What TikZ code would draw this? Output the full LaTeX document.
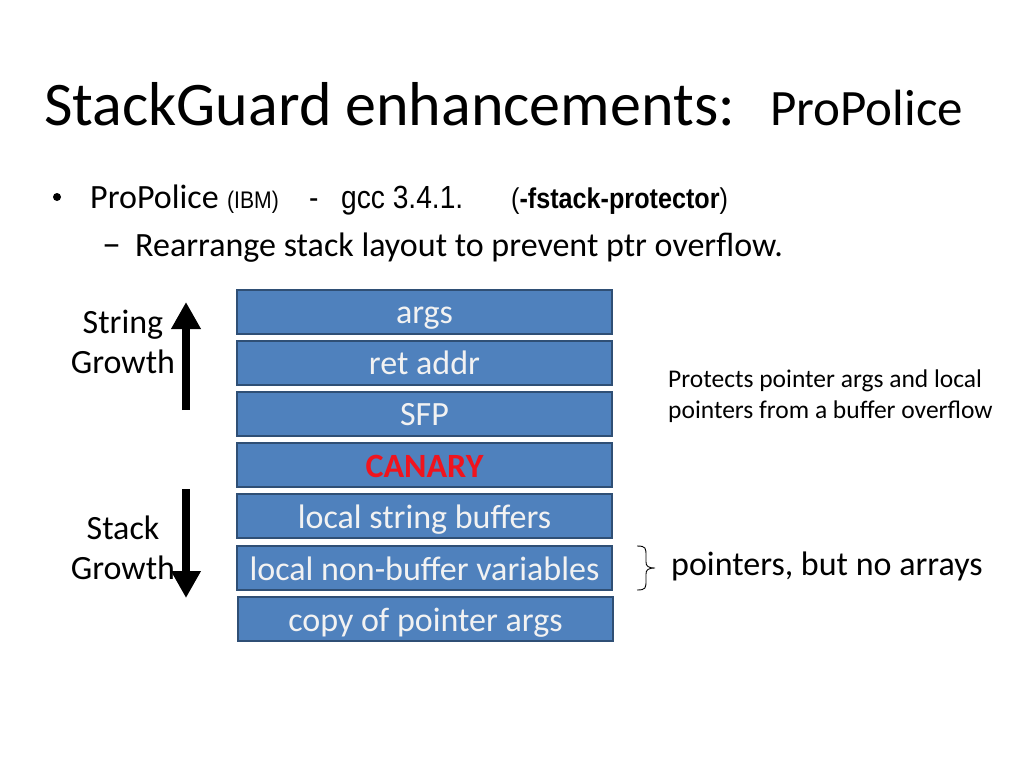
\documentclass[tikz,border=0pt]{standalone}
\usepackage{fontspec}
\setmainfont{Carlito}
\newfontfamily\arialn[FakeStretch=0.88]{Liberation Sans}
\usetikzlibrary{arrows.meta}
\definecolor{boxblue}{HTML}{4F81BD}
\definecolor{boxedge}{HTML}{2F4F75}
\definecolor{boxtext}{HTML}{F2F2F2}
\definecolor{canaryred}{HTML}{F0141E}
\begin{document}
\begin{tikzpicture}[x=1pt,y=-1pt,
  stackbox/.style={draw=boxedge,fill=boxblue,line width=1.2pt},
  boxlabel/.style={anchor=base,text=boxtext,inner sep=0pt,font=\fontsize{34}{40}\selectfont},
  plain/.style={inner sep=0pt,font=\fontsize{34}{40}\selectfont},
  bigarrow/.style={line width=8pt,-{Triangle[width=28pt,length=27pt]}}]
\useasboundingbox (0,0) rectangle (1024,768);
% title
\node[anchor=base west,inner sep=0pt,font=\fontsize{62}{70}\selectfont] (title) at (44,125) {StackGuard enhancements:};
\node[anchor=base west,inner sep=0pt,font=\fontsize{51}{60}\selectfont] (subtitle) at (770,125) {ProPolice};
% bullet line
\node[circle,fill=black,inner sep=0pt,minimum size=8pt] (dot) at (57,197) {};
\node[anchor=base west,plain] (pp) at (90,208) {ProPolice};
\node[anchor=base west,inner sep=0pt,font=\arialn\fontsize{24}{28}\selectfont] (ibm) at (227,208) {(IBM)};
\node[anchor=base west,inner sep=0pt,font=\arialn\fontsize{32}{36}\selectfont] (dash) at (309,208) {-};
\node[anchor=base west,inner sep=0pt,font=\arialn\fontsize{32}{36}\selectfont] (gcc) at (341,208) {gcc 3.4.1.};
\node[anchor=base west,inner sep=0pt,font=\arialn\fontsize{28.6}{34}\selectfont] (flag) at (511,208) {(\textbf{-fstack-protector})};
\node[anchor=base west,inner sep=0pt,font=\fontsize{38}{40}\selectfont] (endash) at (102,256) {–};
\node[anchor=base west,plain] (rearr) at (135,256) {Rearrange stack layout to prevent ptr overflow.};
% stack boxes
\draw[stackbox] (237,290) rectangle (612,334);
\draw[stackbox] (237,341) rectangle (612,385);
\draw[stackbox] (237,392) rectangle (612,436);
\draw[stackbox] (237,443) rectangle (612,487);
\draw[stackbox] (237,494) rectangle (612,538);
\draw[stackbox] (237,546) rectangle (612,590);
\draw[stackbox] (238,597) rectangle (613,641);
\node[boxlabel] (args) at (424.5,323) {args};
\node[boxlabel] (ret) at (424.5,374) {ret addr};
\node[boxlabel] (sfp) at (424.5,425) {SFP};
\node[boxlabel,text=canaryred,font=\bfseries\fontsize{34}{40}\selectfont] (canary) at (424.5,477) {CANARY};
\node[boxlabel] (lsb) at (424.5,528) {local string buffers};
\node[boxlabel] (lnb) at (424.5,580) {local non-buffer variables};
\node[boxlabel] (cpa) at (425.5,631) {copy of pointer args};
% growth labels
\node[plain,align=center,anchor=center] (sg) at (123,342) {String\\[0pt]Growth};
\node[plain,align=center,anchor=center] (stg) at (123,548) {Stack\\[0pt]Growth};
\coordinate (upA) at (186,410);
\coordinate (upB) at (186,302);
\coordinate (dnA) at (186,489);
\coordinate (dnB) at (186,598);
\draw[bigarrow] (upA) -- (upB);
\draw[bigarrow] (dnA) -- (dnB);
% note
\node[anchor=base west,inner sep=0pt,align=left,font=\fontsize{25.5}{30.5}\selectfont] (note) at (668,418) {Protects pointer args and local\\pointers from a buffer overflow};
% brace
\coordinate (brT) at (637,546);
\coordinate (brB) at (637,590);
\draw[line width=0.9pt] (brT) .. controls (646,546) and (646,548) .. (646,556)
  -- (646,562) .. controls (646,566) and (648,568) .. (655,568)
  .. controls (648,568) and (646,570) .. (646,574)
  -- (646,580) .. controls (646,588) and (646,590) .. (brB);
\node[anchor=base west,plain] (ptrs) at (671,575) {pointers, but no arrays};
\end{tikzpicture}
\end{document}
